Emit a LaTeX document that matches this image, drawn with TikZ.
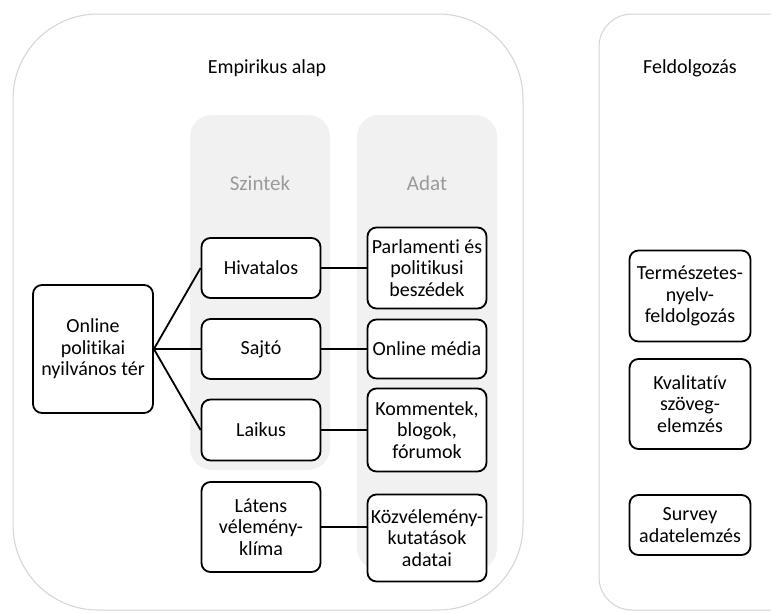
\documentclass[tikz,border=0pt]{standalone}
\usepackage{fontspec}
\setmainfont[Ligatures=NoCommon]{Carlito}
\usetikzlibrary{calc}
\definecolor{panelline}{HTML}{D4D4D4}
\definecolor{columnfill}{HTML}{F1F1F1}
\definecolor{columntext}{HTML}{9A9A9A}
\tikzset{panel/.style={draw=panelline, line width=1pt},
  column/.style={fill=columnfill, draw=none}, heading/.style={font=\fontsize{20}{24}\selectfont},
  colhead/.style={font=\fontsize{21}{24}\selectfont, text=columntext},
  itembox/.style={draw, rounded corners=9pt, fill=white, align=center, minimum width=119pt,
    inner sep=1pt, font=\fontsize{20}{21.5}\selectfont}}

\begin{document}
\begin{tikzpicture}[x=1pt, y=-1pt, line width=1.8pt]
   \useasboundingbox (0,0) rectangle (771,613);
   \fill[white] (0,0) rectangle (771,613);
   \begin{scope}
    \clip (0,0) rectangle (771,613);
    \draw[panel, rounded corners=85pt] (13,14) rectangle (523,610);
    \draw[panel, rounded corners=33pt] (599,14) rectangle (830,610);
   \end{scope}
   \fill[column, rounded corners=22pt] (190,115) rectangle (330,470);
   \fill[column, rounded corners=22pt] (357,115) rectangle (497,570);
   \node[heading] (empirikus) at (267,68) {Empirikus alap};
   \node[heading] (feldolg)   at (690,68) {Feldolgozás};
   \node[colhead] (szintek)   at (260,183) {Szintek};
   \node[colhead] (adat)      at (427,183) {Adat};
   \begin{scope}
    \node[itembox, minimum width=120pt, minimum height=128pt] (ter) at (93,349)
      {Online\\politikai\\nyilvános tér};
    \node[itembox, minimum height=60pt] (hiv)    at (261,268) {Hivatalos};
    \node[itembox, minimum height=60pt] (sajto)  at (261,349) {Sajtó};
    \node[itembox, minimum height=61pt] (laikus) at (261,430) {Laikus};
    \node[itembox, minimum height=90pt] (latens) at (261,527) {Látens\\vélemény-\\klíma};
   \end{scope}
   \begin{scope}
    \node[itembox, minimum height=81pt] (parl)   at (427,268) {Parlamenti és\\politikusi\\beszédek};
    \node[itembox, minimum height=59pt] (media)  at (427,349) {Online média};
    \node[itembox, minimum height=83pt] (komm)   at (427,430) {Kommentek,\\blogok,\\fórumok};
    \node[itembox, minimum height=87pt] (kozvel) at (427,538) {Közvélemény-\\kutatások\\adatai};
   \end{scope}
   \begin{scope}
    \node[itembox, minimum width=121pt, minimum height=91pt] (nlp)    at (690,296) {Természetes-\\nyelv-\\feldolgozás};
    \node[itembox, minimum width=121pt, minimum height=90pt] (kval)   at (690,404) {Kvalitatív\\szöveg-\\elemzés};
    \node[itembox, minimum width=121pt, minimum height=60pt] (survey) at (690,525) {Survey\\adatelemzés};
   \end{scope}
   \draw (ter.east) -- (hiv.west);
   \draw (ter.east) -- (sajto.west);
   \draw (ter.east) -- (laikus.west);
   \draw (hiv) -- (parl);
   \draw (sajto) -- (media);
   \draw (laikus) -- (komm);
   \draw (latens.east) -- (latens.east -| kozvel.west);
  \end{tikzpicture}
\end{document}
